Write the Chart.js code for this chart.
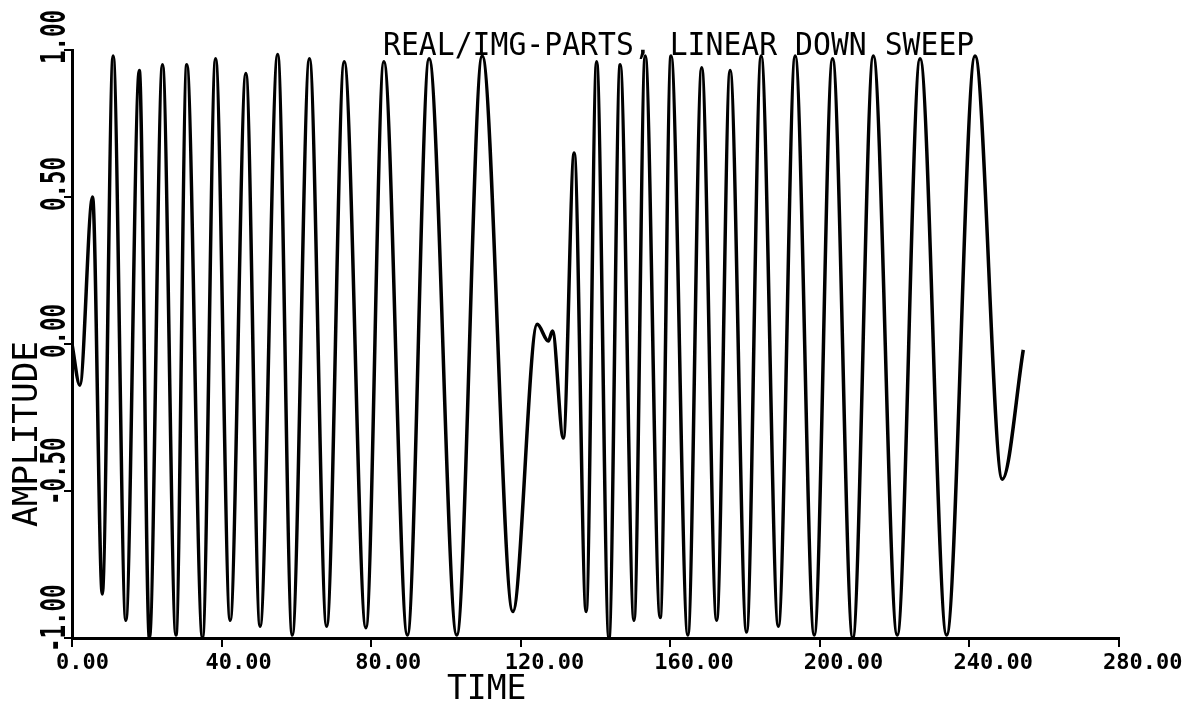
<!DOCTYPE html>
<html>
<head>
<meta charset="utf-8">
<title>Real/Img-parts, linear down sweep</title>
<script src="https://cdn.jsdelivr.net/npm/chart.js@4.4.1/dist/chart.umd.min.js"></script>
<style>
  html, body { margin: 0; padding: 0; background: #fff; }
  #wrap { width: 1203px; height: 706px; }
</style>
</head>
<body>
<div id="wrap"><canvas id="sweepChart"></canvas></div>
<script>
// turning points of the trace (peaks / troughs)
const times = [
  0, 2.1, 5.5, 8.1, 11.0, 14.4, 18.0, 20.7, 24.2, 27.8, 30.7, 34.9, 38.4, 42.3,
  46.5, 50.3, 55.0, 58.9, 63.5, 68.1, 72.8, 78.6, 83.4, 89.7, 95.5, 102.9, 109.7,
  117.9, 124.4, 127.4, 128.5, 131.4, 134.3, 137.5, 140.3, 143.6, 146.6, 150.3,
  153.3, 157.3, 160.2, 164.7, 168.4, 172.4, 176.0, 180.4, 184.3, 188.9, 193.4,
  198.5, 203.4, 208.8, 214.3, 220.7, 226.8, 233.9, 241.5, 248.8, 254.4
];
const amplitude = [
  0, -0.14, 0.50, -0.85, 0.98, -0.94, 0.93, -1.0, 0.95, -0.99, 0.95, -1.0, 0.97, -0.94,
  0.92, -0.96, 0.985, -0.99, 0.97, -0.96, 0.96, -0.965, 0.96, -0.99, 0.97, -0.99, 0.98,
  -0.91, 0.067, 0.01, 0.044, -0.32, 0.65, -0.91, 0.96, -1.0, 0.95, -0.94,
  0.98, -0.93, 0.98, -0.99, 0.94, -0.94, 0.93, -0.98, 0.98, -0.96, 0.98,
  -0.99, 0.97, -1.0, 0.98, -0.99, 0.97, -0.99, 0.98, -0.46, -0.02
];

const xTicks = [0, 40, 80, 120, 160, 200, 240, 280];
const yTicks = [-1, -0.5, 0, 0.5, 1];

const chartTitle = "REAL/IMG-PARTS, LINEAR DOWN SWEEP";
const xTitle = "TIME";
const yTitle = "AMPLITUDE";

const MONO = '"DejaVu Sans Mono", "Liberation Mono", monospace';

function drawText(ctx, text, x, y, font, sx, sy, rotated) {
  ctx.save();
  ctx.translate(x, y);
  if (rotated) ctx.rotate(-Math.PI / 2);
  ctx.scale(sx, sy);
  ctx.font = font;
  ctx.fillStyle = "#000";
  ctx.textAlign = "left";
  ctx.textBaseline = "alphabetic";
  ctx.fillText(text, 0, 0);
  ctx.restore();
}

// plotter style labels, placed from the scales
const plotterLabels = {
  id: "plotterLabels",
  beforeDraw(chart) {
    const ctx = chart.ctx;
    ctx.save();
    ctx.fillStyle = "#fff";
    ctx.fillRect(0, 0, chart.width, chart.height);
    ctx.restore();
  },
  afterDraw(chart) {
    const ctx = chart.ctx;
    const xs = chart.scales.x;
    const ys = chart.scales.y;

    xTicks.forEach((v) => {
      const px = xs.getPixelForValue(v);
      drawText(ctx, v.toFixed(2), px - 16, 669, "bold 22px " + MONO, 1.0, 1, false);
    });

    yTicks.forEach((v) => {
      const py = ys.getPixelForValue(v);
      drawText(ctx, v.toFixed(2), 65, py + 14, "bold 33px " + MONO, 0.68, 1, true);
    });

    drawText(ctx, chartTitle, 383, 55, "31px " + MONO, 0.96, 1.02, false);
    drawText(ctx, xTitle, 447, 699, "34px " + MONO, 0.97, 1, false);
    drawText(ctx, yTitle, 37, 527, "33px " + MONO, 1.04, 1, true);
  }
};

const points = times.map((t, i) => ({ x: t, y: amplitude[i] }));

new Chart(document.getElementById("sweepChart"), {
  type: "line",
  data: {
    datasets: [{
      data: points,
      borderColor: "#000",
      borderWidth: 3.5,
      pointRadius: 0,
      fill: false,
      cubicInterpolationMode: "monotone"
    }]
  },
  options: {
    responsive: true,
    maintainAspectRatio: false,
    animation: false,
    layout: { padding: { top: 50, right: 84, left: 0, bottom: 0 } },
    plugins: {
      legend: { display: false },
      tooltip: { enabled: false }
    },
    scales: {
      x: {
        type: "linear",
        min: 0,
        max: 280,
        afterBuildTicks: (scale) => { scale.ticks = xTicks.map((v) => ({ value: v })); },
        ticks: { display: false },
        grid: { display: true, drawOnChartArea: false, drawTicks: true, tickLength: 9, color: "#000", lineWidth: 2 },
        border: { display: true, color: "#000", width: 3 },
        afterFit: (scale) => { scale.height = 68; }
      },
      y: {
        type: "linear",
        min: -1,
        max: 1,
        afterBuildTicks: (scale) => { scale.ticks = yTicks.map((v) => ({ value: v })); },
        ticks: { display: false },
        grid: { display: true, drawOnChartArea: false, drawTicks: true, tickLength: 8, color: "#000", lineWidth: 2 },
        border: { display: true, color: "#000", width: 3 },
        afterFit: (scale) => { scale.width = 72; }
      }
    }
  },
  plugins: [plotterLabels]
});
</script>
</body>
</html>
